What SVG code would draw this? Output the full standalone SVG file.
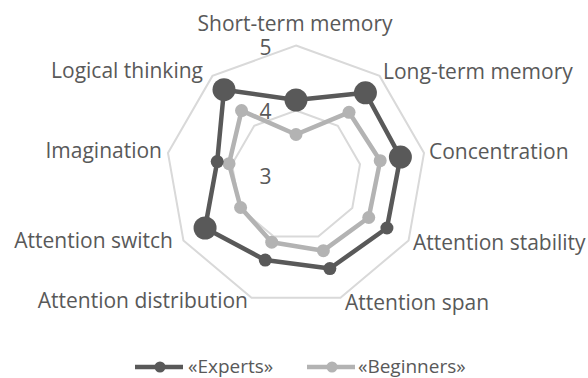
<svg xmlns="http://www.w3.org/2000/svg" width="588" height="378" viewBox="0 0 588 378">
<style>
text{font-family:"Open Sans","Liberation Sans",sans-serif;font-size:21px;fill:#595959}
.lg{font-size:19px}
.grid{fill:none;stroke:#d9d9d9;stroke-width:2}
.exp{fill:none;stroke:#595959;stroke-width:4.5;stroke-linejoin:round}
.beg{fill:none;stroke:#b3b3b3;stroke-width:4.5;stroke-linejoin:round}
.em{fill:#595959}
.bm{fill:#b3b3b3}
</style>
<rect width="588" height="378" fill="#ffffff"/>
<g id="grid">
<polygon class="grid" points="296,45.5 379.56,75.92 424.02,152.93 408.58,240.5 340.46,297.66 251.54,297.66 183.42,240.5 167.98,152.93 212.44,75.92"/>
<polygon class="grid" points="296,110.5 337.78,125.71 360.01,164.22 352.29,208 318.23,236.58 273.77,236.58 239.71,208 231.99,164.22 254.22,125.71"/>
</g>
<g id="axis-labels">
<text x="265.5" y="55" text-anchor="middle">5</text>
<text x="265.5" y="119" text-anchor="middle">4</text>
<text x="265.5" y="184" text-anchor="middle">3</text>
</g>
<g id="connectors">
<polygon class="beg" points="296,134.5 349.03,112.3 380.2,160.66 368.74,217.5 323.36,250.68 271.72,242.22 240.58,207.5 229.03,163.7 241.55,110.62"/>
<polygon class="exp" points="296,100 365.42,92.77 400.39,157.1 386.93,228 329.86,268.53 265.22,260.07 205.07,228 217.2,161.6 224.01,89.71"/>
</g>
<g id="beginners-markers">
<circle class="bm" cx="296" cy="134.5" r="6.5"/>
<circle class="bm" cx="349.03" cy="112.3" r="6.5"/>
<circle class="bm" cx="380.2" cy="160.66" r="6.5"/>
<circle class="bm" cx="368.74" cy="217.5" r="6.5"/>
<circle class="bm" cx="323.36" cy="250.68" r="6.5"/>
<circle class="bm" cx="271.72" cy="242.22" r="6.5"/>
<circle class="bm" cx="240.58" cy="207.5" r="6.5"/>
<circle class="bm" cx="229.03" cy="163.7" r="6.5"/>
<circle class="bm" cx="241.55" cy="110.62" r="6.5"/>
</g>
<g id="experts-markers">
<circle class="em" cx="296" cy="100" r="11.5"/>
<circle class="em" cx="365.42" cy="92.77" r="11.5"/>
<circle class="em" cx="400.39" cy="157.1" r="11.5"/>
<circle class="em" cx="386.93" cy="228" r="6.5"/>
<circle class="em" cx="329.86" cy="268.53" r="6.5"/>
<circle class="em" cx="265.22" cy="260.07" r="6.5"/>
<circle class="em" cx="205.07" cy="228" r="11.5"/>
<circle class="em" cx="217.2" cy="161.6" r="6.5"/>
<circle class="em" cx="224.01" cy="89.71" r="11.5"/>
</g>
<g id="node-short-term"><text x="295" y="31" text-anchor="middle">Short-term memory</text></g>
<g id="node-long-term"><text x="383" y="79">Long-term memory</text></g>
<g id="node-concentration"><text x="429" y="159">Concentration</text></g>
<g id="node-stability"><text x="413" y="250">Attention stability</text></g>
<g id="node-span"><text x="345" y="310">Attention span</text></g>
<g id="node-distribution"><text x="248" y="308" text-anchor="end">Attention distribution</text></g>
<g id="node-switch"><text x="173" y="248" text-anchor="end">Attention switch</text></g>
<g id="node-imagination"><text x="162" y="158" text-anchor="end">Imagination</text></g>
<g id="node-logical"><text x="203" y="78" text-anchor="end">Logical thinking</text></g>
<g id="legend">
<line x1="135" y1="367" x2="183" y2="367" stroke="#595959" stroke-width="4.5"/>
<circle class="em" cx="160" cy="367" r="5.5"/>
<text class="lg" x="188" y="373">«Experts»</text>
<line x1="307" y1="367" x2="355" y2="367" stroke="#b3b3b3" stroke-width="4.5"/>
<circle class="bm" cx="332" cy="367" r="5.5"/>
<text class="lg" x="358" y="373">«Beginners»</text>
</g>
</svg>
